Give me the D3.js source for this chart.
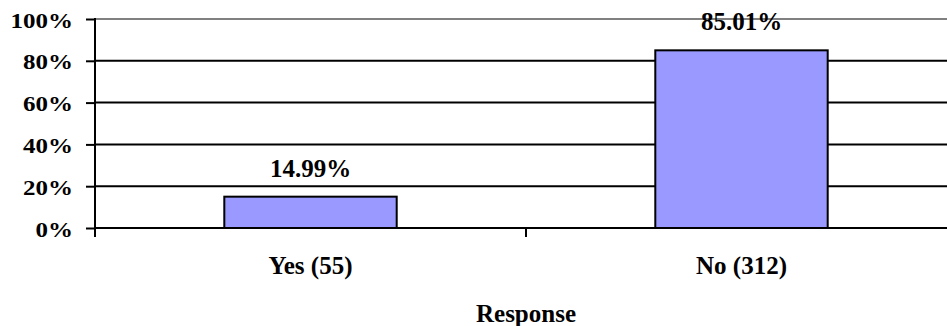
<!DOCTYPE html>
<html><head><meta charset="utf-8">
<script src="https://cdn.jsdelivr.net/npm/d3@7"></script>
<style>
html,body{margin:0;padding:0;background:#fff;overflow:hidden;}
text{font-family:"Liberation Serif","Times New Roman",serif;font-weight:bold;fill:#000;}
</style></head>
<body>
<svg id="chart" width="947" height="326"></svg>
<script>
const categories = ["Yes (55)", "No (312)"];
const values = [0.1499, 0.8501];
const valueLabels = ["14.99%", "85.01%"];
const yTicks = [0, 0.2, 0.4, 0.6, 0.8, 1.0];
const yTickLabels = ["0%", "20%", "40%", "60%", "80%", "100%"];
const xTitle = "Response";

(function () {
const svg = d3.select("#chart");
const mLeft = 95, mRight = 957, mTop = 19, mBottom = 228;

const x = d3.scaleBand().domain(categories).range([mLeft, mRight]).paddingInner(0.6).paddingOuter(0.3);
const y = d3.scaleLinear().domain([0, 1]).range([mBottom, mTop]);

// gridlines
svg.append("g").selectAll("line").data(yTicks.filter(d => d > 0)).join("line")
  .attr("x1", mLeft).attr("x2", mRight)
  .attr("y1", d => y(d)).attr("y2", d => y(d))
  .attr("stroke", d => d === 1 ? "#808080" : "#000")
  .attr("stroke-width", 2);

// bars
svg.append("g").selectAll("rect").data(values).join("rect")
  .attr("x", (d, i) => x(categories[i]))
  .attr("width", x.bandwidth())
  .attr("y", d => y(d))
  .attr("height", d => y(0) - y(d))
  .attr("fill", "#9999ff")
  .attr("stroke", "#000")
  .attr("stroke-width", 2);

// value labels
svg.append("g").selectAll("text").data(values).join("text")
  .attr("x", (d, i) => x(categories[i]) + x.bandwidth() / 2)
  .attr("y", d => y(d) - 20)
  .attr("text-anchor", "middle")
  .style("font-size", "25px")
  .text((d, i) => valueLabels[i]);

// y axis
const yAxis = d3.axisLeft(y).tickValues(yTicks).tickSize(9).tickFormat((d, i) => yTickLabels[i]);
const gy = svg.append("g").attr("transform", `translate(${mLeft},0)`).call(yAxis);
gy.select(".domain").remove();
gy.selectAll(".tick line").attr("stroke", "#000").attr("stroke-width", 2);
gy.selectAll(".tick text")
  .attr("x", 0).attr("dy", null).attr("y", 0)
  .attr("transform", "translate(-22,8) scale(1,0.84)")
  .style("font-size", "25px")
  .attr("text-anchor", "end");
svg.append("line").attr("x1", mLeft).attr("x2", mLeft).attr("y1", mTop - 1).attr("y2", mBottom + 9)
  .attr("stroke", "#000").attr("stroke-width", 2);

// x axis
const xEdge = d3.scaleLinear().domain([0, categories.length]).range([mLeft, mRight]);
svg.append("line").attr("x1", mLeft).attr("x2", mRight).attr("y1", mBottom).attr("y2", mBottom)
  .attr("stroke", "#000").attr("stroke-width", 2);
svg.append("g").selectAll("line").data(d3.range(categories.length + 1)).join("line")
  .attr("x1", d => xEdge(d)).attr("x2", d => xEdge(d))
  .attr("y1", mBottom).attr("y2", mBottom + 9)
  .attr("stroke", "#000").attr("stroke-width", 2);

svg.append("g").selectAll("text").data(categories).join("text")
  .attr("x", d => x(d) + x.bandwidth() / 2)
  .attr("y", 274)
  .attr("text-anchor", "middle")
  .style("font-size", "25px")
  .text(d => d);

svg.append("text").attr("x", (mLeft + mRight) / 2).attr("y", 322)
  .attr("text-anchor", "middle").style("font-size", "25px").text(xTitle);
})();
</script>
</body></html>
